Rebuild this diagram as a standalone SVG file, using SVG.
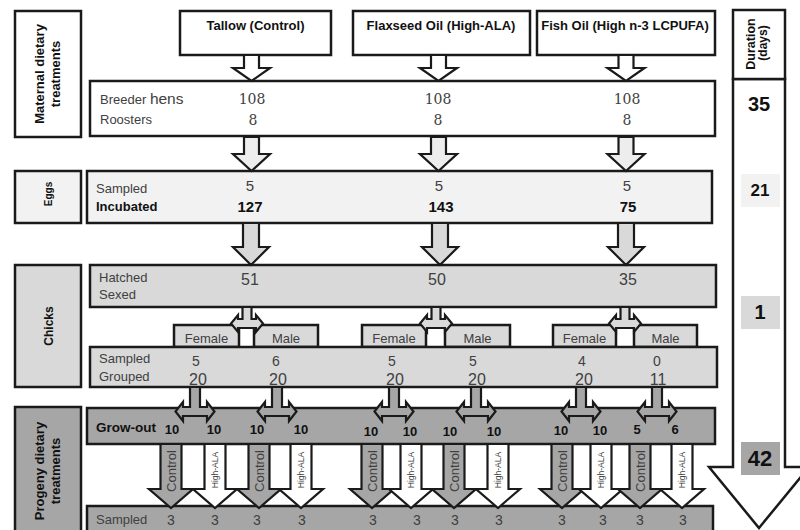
<svg xmlns="http://www.w3.org/2000/svg" xmlns:xlink="http://www.w3.org/1999/xlink" width="800" height="530" viewBox="0 0 800 530" font-size="13">
<style>
.box{stroke:#1a1a1a;stroke-width:2.5}
.w{fill:#ffffff}.l0{fill:#ededed}.l1{fill:#f2f2f2}.l2{fill:#d9d9d9}.l3{fill:#a6a6a6}
.t{font-family:"Liberation Sans",Arial,sans-serif;fill:#404040}
.b{font-weight:bold;fill:#111111}
.s{font-family:"DejaVu Serif","Liberation Serif",serif;fill:#404040;font-size:14px}
.m{text-anchor:middle}
.arr{stroke:#1a1a1a;stroke-width:2.2;stroke-linejoin:miter}
</style>
<defs>
<path id="arrA" d="M-7.5,55 L7.5,55 L7.5,68 L18.5,68 L0,81 L-18.5,68 L-7.5,68 Z"/>
<path id="arrB" d="M-7.5,137 L7.5,137 L7.5,154 L18.5,154 L0,171 L-18.5,154 L-7.5,154 Z"/>
<path id="arrC" d="M-8,223 L8,223 L8,247 L18,247 L0,265 L-18,247 L-8,247 Z"/>
<path id="tSmall" d="M-4.5,307 L4.5,307 L4.5,319 L9,319 L9,315 L16,323.5 L9,332 L9,328 L-9,328 L-9,332 L-16,323.5 L-9,315 L-9,319 L-4.5,319 Z"/>
<path id="tBig" d="M-5,387 L5,387 L5,407 L12,407 L12,402 L19.5,411.5 L12,421 L12,416 L-12,416 L-12,421 L-19.5,411.5 L-12,402 L-12,407 L-5,407 Z"/>
<path id="down" d="M-10.5,444 L10.5,444 L10.5,489 L22,489 L0,508 L-22,489 L-10.5,489 Z"/>
</defs>
<rect width="800" height="530" fill="#ffffff"/>

<g id="label-maternal">
<rect x="15" y="11" width="66" height="126" class="box w"/>
<text transform="translate(44,74) rotate(-90)" class="t b m">Maternal dietary</text>
<text transform="translate(60,74) rotate(-90)" class="t b m">treatments</text>
</g>
<g id="label-eggs">
<rect x="15" y="171" width="66" height="52" class="box l1"/>
<text transform="translate(52,194) rotate(-90)" class="t b m" font-size="10">Eggs</text>
</g>
<g id="label-chicks">
<rect x="15" y="265" width="66" height="122" class="box l2"/>
<text transform="translate(53,326) rotate(-90)" class="t b m" font-size="12">Chicks</text>
</g>
<g id="label-progeny">
<rect x="15" y="407" width="66" height="135" class="box l3"/>
<text transform="translate(44,471) rotate(-90)" class="t b m">Progeny dietary</text>
<text transform="translate(60,471) rotate(-90)" class="t b m">treatments</text>
</g>

<g id="duration">
<path d="M733,79 L785,79 L785,467 L809,467 L759,528 L709,467 L733,467 Z" class="box w"/>
<rect x="733" y="10" width="52" height="69" class="box w"/>
<text transform="translate(755,44) rotate(-90)" class="t b m" font-size="12.5">Duration</text>
<text transform="translate(767,43) rotate(-90)" class="t b m" font-size="12">(days)</text>
<text x="759" y="111" class="t b m" font-size="20">35</text>
<rect x="741" y="174" width="39" height="33" class="l1"/>
<text x="760" y="196" class="t b m" font-size="17">21</text>
<rect x="741" y="296" width="39" height="33" class="l2"/>
<text x="760" y="319" class="t b m" font-size="20">1</text>
<rect x="741" y="442" width="39" height="33" class="l3"/>
<text x="760" y="466" class="t b m" font-size="22">42</text>
</g>

<g id="treat-tallow">
<rect x="180" y="11" width="151" height="44" class="box w"/>
<text x="255.5" y="29.5" class="t b m">Tallow (Control)</text>
</g>
<g id="treat-flaxseed">
<rect x="353" y="11" width="177" height="44" class="box w"/>
<text x="441" y="29.5" class="t b m">Flaxseed Oil (High-ALA)</text>
</g>
<g id="treat-fish">
<rect x="537" y="11" width="178" height="44" class="box w"/>
<text x="625" y="29.5" class="t b m">Fish Oil (High n-3 LCPUFA)</text>
</g>

<g id="row-breeders">
<rect x="90" y="81" width="625" height="55" class="box w"/>
<text x="100" y="103.5" class="t">Breeder <tspan font-size="15.5">hens</tspan></text>
<text x="100" y="124" class="t">Roosters</text>
<text x="252" y="103.5" class="s m">108</text>
<text x="253" y="124.5" class="s m">8</text>
<text x="438" y="103.5" class="s m">108</text>
<text x="438" y="124.5" class="s m">8</text>
<text x="627" y="103.5" class="s m">108</text>
<text x="627" y="124.5" class="s m">8</text>
</g>

<g id="row-eggs">
<rect x="87" y="171" width="625" height="52" class="box l1"/>
<text x="96" y="192.5" class="t">Sampled</text>
<text x="96" y="210.5" class="t b">Incubated</text>
<text x="250" y="191" class="t m" font-size="15">5</text>
<text x="250" y="211.5" class="t b m" font-size="15">127</text>
<text x="439" y="191" class="t m" font-size="15">5</text>
<text x="441" y="211.5" class="t b m" font-size="15">143</text>
<text x="627" y="191" class="t m" font-size="15">5</text>
<text x="628" y="211.5" class="t b m" font-size="15">75</text>
</g>

<g id="row-chicks">
<rect x="90" y="265" width="626" height="42" class="box l2"/>
<text x="99" y="281.5" class="t">Hatched</text>
<text x="99" y="298.5" class="t">Sexed</text>
<text x="250" y="285" class="t m" font-size="16">51</text>
<text x="437" y="285" class="t m" font-size="16">50</text>
<text x="628" y="285" class="t m" font-size="16">35</text>
</g>

<g id="sex-tallow">
<rect x="174" y="325" width="65" height="22" class="box l2"/>
<text x="206.5" y="342.5" class="t m">Female</text>
<rect x="254" y="325" width="64" height="22" class="box l2"/>
<text x="286" y="342.5" class="t m">Male</text>
</g>
<g id="sex-flaxseed">
<rect x="362" y="325" width="64" height="22" class="box l2"/>
<text x="394" y="342.5" class="t m">Female</text>
<rect x="445" y="325" width="65" height="22" class="box l2"/>
<text x="477.5" y="342.5" class="t m">Male</text>
</g>
<g id="sex-fish">
<rect x="553" y="325" width="63" height="22" class="box l2"/>
<text x="584.5" y="342.5" class="t m">Female</text>
<rect x="634" y="325" width="63" height="22" class="box l2"/>
<text x="665.5" y="342.5" class="t m">Male</text>
</g>

<g id="row-grouped">
<rect x="90" y="347" width="627" height="40" class="box l2"/>
<text x="99" y="362.5" class="t">Sampled</text>
<text x="99" y="380.5" class="t">Grouped</text>
<text x="196" y="366" class="t m" font-size="14">5</text>
<text x="276" y="366" class="t m" font-size="14">6</text>
<text x="392" y="366" class="t m" font-size="14">5</text>
<text x="473" y="366" class="t m" font-size="14">5</text>
<text x="582" y="366" class="t m" font-size="14">4</text>
<text x="657" y="366" class="t m" font-size="14">0</text>
<text x="198" y="385" class="t m" font-size="16">20</text>
<text x="278" y="385" class="t m" font-size="16">20</text>
<text x="395" y="385" class="t m" font-size="16">20</text>
<text x="477" y="385" class="t m" font-size="16">20</text>
<text x="584" y="385" class="t m" font-size="16">20</text>
<text x="658" y="385" class="t m" font-size="16">11</text>
</g>

<g id="row-growout">
<rect x="87" y="408" width="628" height="36" class="box l3"/>
<text x="96" y="431.5" class="t b" font-size="13.5">Grow-out</text>
<text x="172" y="434" class="t b m">10</text>
<text x="214" y="434" class="t b m">10</text>
<text x="257" y="434" class="t b m">10</text>
<text x="301" y="434" class="t b m">10</text>
<text x="371" y="436" class="t b m">10</text>
<text x="410" y="436" class="t b m">10</text>
<text x="450" y="436" class="t b m">10</text>
<text x="494" y="436" class="t b m">10</text>
<text x="561" y="435" class="t b m">10</text>
<text x="600" y="435" class="t b m">10</text>
<text x="637" y="434" class="t b m">5</text>
<text x="675" y="434" class="t b m">6</text>
</g>

<g id="row-sampled">
<rect x="87" y="506" width="626" height="30" class="box l3"/>
<text x="96" y="524" class="t">Sampled</text>
<text x="171" y="524.5" class="t m" font-size="14">3</text>
<text x="215" y="524.5" class="t m" font-size="14">3</text>
<text x="257" y="524.5" class="t m" font-size="14">3</text>
<text x="302" y="524.5" class="t m" font-size="14">3</text>
<text x="373" y="524.5" class="t m" font-size="14">3</text>
<text x="417" y="524.5" class="t m" font-size="14">3</text>
<text x="455" y="524.5" class="t m" font-size="14">3</text>
<text x="499" y="524.5" class="t m" font-size="14">3</text>
<text x="562" y="524.5" class="t m" font-size="14">3</text>
<text x="603" y="524.5" class="t m" font-size="14">3</text>
<text x="640" y="524.5" class="t m" font-size="14">3</text>
<text x="683" y="524.5" class="t m" font-size="14">3</text>
</g>

<g id="connectors">
<use xlink:href="#arrA" x="251.5" class="arr w"/>
<use xlink:href="#arrA" x="438.5" class="arr w"/>
<use xlink:href="#arrA" x="626" class="arr w"/>
<use xlink:href="#arrB" x="251.5" class="arr l0"/>
<use xlink:href="#arrB" x="438.5" class="arr l0"/>
<use xlink:href="#arrB" x="626" class="arr l0"/>
<use xlink:href="#arrC" x="251" class="arr l2"/>
<use xlink:href="#arrC" x="440" class="arr l2"/>
<use xlink:href="#arrC" x="626" class="arr l2"/>
<use xlink:href="#tSmall" x="247" class="arr l2"/>
<use xlink:href="#tSmall" x="436" class="arr l2"/>
<use xlink:href="#tSmall" x="625" class="arr l2"/>
<use xlink:href="#tBig" x="195" class="arr l3"/>
<use xlink:href="#tBig" x="277" class="arr l3"/>
<use xlink:href="#tBig" x="394" class="arr l3"/>
<use xlink:href="#tBig" x="476" class="arr l3"/>
<use xlink:href="#tBig" x="581" class="arr l3"/>
<use xlink:href="#tBig" x="657" class="arr l3"/>
<use xlink:href="#down" x="171" class="arr l3"/>
<use xlink:href="#down" x="215" class="arr w"/>
<use xlink:href="#down" x="259" class="arr l3"/>
<use xlink:href="#down" x="301" class="arr w"/>
<use xlink:href="#down" x="372" class="arr l3"/>
<use xlink:href="#down" x="411" class="arr w"/>
<use xlink:href="#down" x="454" class="arr l3"/>
<use xlink:href="#down" x="498" class="arr w"/>
<use xlink:href="#down" x="562" class="arr l3"/>
<use xlink:href="#down" x="601" class="arr w"/>
<use xlink:href="#down" x="640" class="arr l3"/>
<use xlink:href="#down" x="682" class="arr w"/>
<g>
<text transform="translate(176,471) rotate(-90)" class="t m">Control</text>
<text transform="translate(218,470) rotate(-90)" class="t m" font-size="8.5">High-ALA</text>
<text transform="translate(264,471) rotate(-90)" class="t m">Control</text>
<text transform="translate(304,470) rotate(-90)" class="t m" font-size="8.5">High-ALA</text>
<text transform="translate(377,471) rotate(-90)" class="t m">Control</text>
<text transform="translate(414,470) rotate(-90)" class="t m" font-size="8.5">High-ALA</text>
<text transform="translate(459,471) rotate(-90)" class="t m">Control</text>
<text transform="translate(501,470) rotate(-90)" class="t m" font-size="8.5">High-ALA</text>
<text transform="translate(567,471) rotate(-90)" class="t m">Control</text>
<text transform="translate(604,470) rotate(-90)" class="t m" font-size="8.5">High-ALA</text>
<text transform="translate(645,471) rotate(-90)" class="t m">Control</text>
<text transform="translate(685,470) rotate(-90)" class="t m" font-size="8.5">High-ALA</text>
</g>
</g>
</svg>
